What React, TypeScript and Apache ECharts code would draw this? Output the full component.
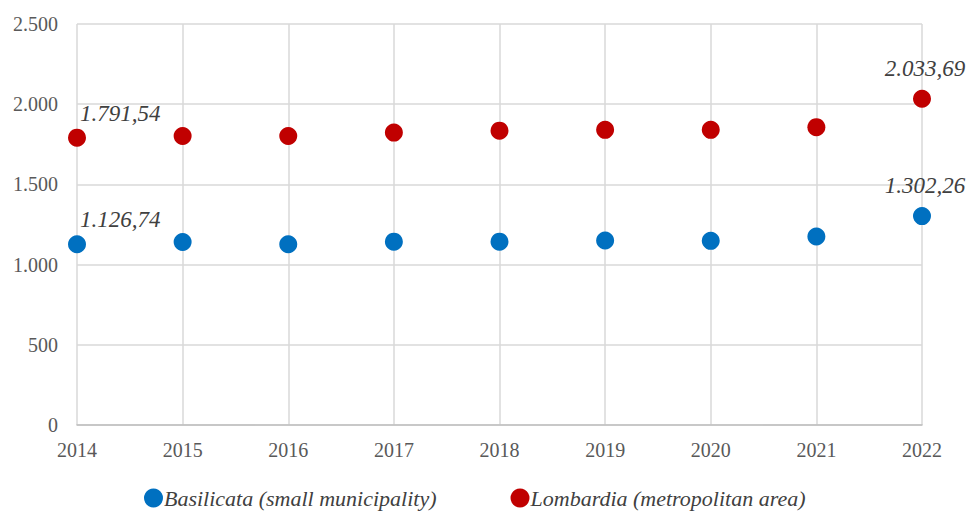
import React, { useEffect, useRef } from "react";
import * as echarts from "echarts";

const years = ["2014", "2015", "2016", "2017", "2018", "2019", "2020", "2021", "2022"];
const basilicata = [1126.74, 1141, 1127, 1143, 1143, 1150, 1148, 1175, 1302.26];
const lombardia = [1791.54, 1802, 1802, 1823, 1835, 1840, 1840, 1857, 2033.69];
const seriesNames = ["Basilicata (small municipality)", "Lombardia (metropolitan area)"];
const colors = ["#0070C0", "#C00000"];

const FONT = '"Liberation Serif", "Times New Roman", serif';

const fmt = (v: number) => {
  const [i, d] = v.toFixed(2).split(".");
  return i.replace(/\B(?=(\d{3})+(?!\d))/g, ".") + "," + d;
};
const fmtAxis = (v: number) => String(v).replace(/\B(?=(\d{3})+(?!\d))/g, ".");

function buildData(values: number[]) {
  return values.map((v, i) => {
    if (i === 0) {
      return {
        value: v,
        label: { show: true, position: "top", align: "left", offset: [3, 0], distance: 4 },
      };
    }
    if (i === values.length - 1) {
      return {
        value: v,
        label: { show: true, position: "top", align: "center", offset: [3, 0], distance: 10 },
      };
    }
    return { value: v };
  });
}

export default function App() {
  const ref = useRef<HTMLDivElement>(null);
  useEffect(() => {
    if (!ref.current) return;
    const chart = echarts.init(ref.current, undefined, { renderer: "svg" });
    const labelStyle = {
      fontFamily: FONT,
      fontStyle: "italic",
      fontSize: 23,
      color: "#404040",
      formatter: (p: any) => fmt(p.value),
    };
    chart.setOption({
      animation: false,
      backgroundColor: "#ffffff",
      grid: { left: 77, right: 49, top: 24, bottom: 86, containLabel: false },
      xAxis: {
        type: "category",
        data: years,
        boundaryGap: false,
        axisLine: { show: true, lineStyle: { color: "#bfbfbf", width: 1.5 } },
        axisTick: { show: false },
        splitLine: { show: true, lineStyle: { color: "#d9d9d9", width: 1.5 } },
        axisLabel: { fontFamily: FONT, fontSize: 20, color: "#595959", margin: 15 },
      },
      yAxis: {
        type: "value",
        min: 0,
        max: 2500,
        interval: 500,
        axisLine: { show: false },
        axisTick: { show: false },
        splitLine: { show: true, lineStyle: { color: "#d9d9d9", width: 1.5 } },
        axisLabel: {
          fontFamily: FONT,
          fontSize: 20,
          color: "#595959",
          margin: 19,
          formatter: (v: number) => fmtAxis(v),
        },
      },
      legend: {
        bottom: -3,
        left: 139,
        icon: "circle",
        itemWidth: 19,
        itemHeight: 19,
        itemGap: 74,
        textStyle: { fontFamily: FONT, fontStyle: "italic", fontSize: 22, color: "#404040", padding: [0, 0, 0, -4] },
        data: seriesNames,
      },
      series: [
        {
          name: seriesNames[0],
          type: "scatter",
          symbol: "circle",
          symbolSize: 18,
          itemStyle: { color: colors[0], opacity: 1 },
          label: labelStyle,
          data: buildData(basilicata),
        },
        {
          name: seriesNames[1],
          type: "scatter",
          symbol: "circle",
          symbolSize: 18,
          itemStyle: { color: colors[1], opacity: 1 },
          label: labelStyle,
          data: buildData(lombardia),
        },
      ],
    });
    return () => chart.dispose();
  }, []);
  return <div ref={ref} style={{ width: 971, height: 511, position: "absolute", left: 0, top: 0 }} />;
}
